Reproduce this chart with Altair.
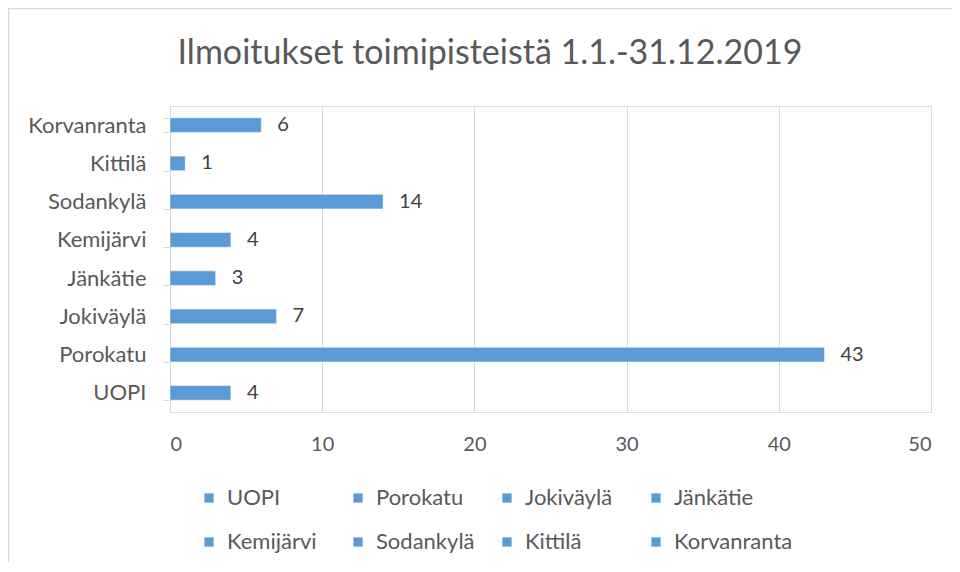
import altair as alt
import pandas as pd

title_text = "Ilmoitukset toimipisteistä 1.1.-31.12.2019"
categories = ["Korvanranta", "Kittilä", "Sodankylä", "Kemijärvi", "Jänkätie", "Jokiväylä", "Porokatu", "UOPI"]
values = [6, 1, 14, 4, 3, 7, 43, 4]
legend_order = ["UOPI", "Porokatu", "Jokiväylä", "Jänkätie", "Kemijärvi", "Sodankylä", "Kittilä", "Korvanranta"]
x_ticks = [0, 10, 20, 30, 40, 50]

BLUE = "#5B9BD5"
FONT = "Lato"

df = pd.DataFrame({"Toimipiste": categories, "Ilmoitukset": values})

y_enc = alt.Y(
    "Toimipiste:N",
    sort=categories,
    title=None,
    scale=alt.Scale(paddingInner=0.62, paddingOuter=0.31),
    axis=alt.Axis(
        tickBand="extent",
        domainColor="#D9D9D9",
        tickColor="#D9D9D9",
        tickSize=7,
        labelPadding=17,
        labelFont=FONT,
        labelFontSize=22,
        labelColor="#595959",
        grid=False,
    ),
)

x_enc = alt.X(
    "Ilmoitukset:Q",
    title=None,
    scale=alt.Scale(domain=[0, 50], nice=False),
    axis=alt.Axis(
        values=x_ticks,
        domain=False,
        ticks=False,
        grid=True,
        gridColor="#D9D9D9",
        labelPadding=22,
        labelFont=FONT,
        labelFontSize=20,
        labelColor="#595959",
    ),
)

bars = alt.Chart(df).mark_bar(color=BLUE, stroke="white", strokeWidth=0.5).encode(
    x=x_enc,
    y=y_enc,
    color=alt.Color(
        "Toimipiste:N",
        scale=alt.Scale(domain=legend_order, range=[BLUE] * len(legend_order)),
        legend=alt.Legend(
            title=None,
            orient="none",
            legendX=28,
            legendY=381,
            direction="horizontal",
            columns=4,
            gridAlign="all",
            columnPadding=1,
            rowPadding=22,
            symbolType="square",
            symbolSize=85,
            symbolStrokeWidth=0,
            labelOffset=7,
            labelFont=FONT,
            labelFontSize=22,
            labelColor="#595959",
        ),
    ),
)

labels = alt.Chart(df).mark_text(
    align="left", baseline="middle", dx=16, font=FONT, fontSize=20, color="#404040"
).encode(
    x=alt.X("Ilmoitukset:Q"),
    y=alt.Y("Toimipiste:N", sort=categories),
    text="Ilmoitukset:Q",
)

one = pd.DataFrame({"k": [0]})
border_left = alt.Chart(one).mark_rule(color="#D9D9D9", strokeWidth=1.5).encode(
    x=alt.value(-161.5), y=alt.value(-98), y2=alt.value(460)
)
border_top = alt.Chart(one).mark_rule(color="#D9D9D9", strokeWidth=1.5).encode(
    x=alt.value(-162), x2=alt.value(800), y=alt.value(-97.5)
)
title = alt.Chart(pd.DataFrame({"t": [title_text]})).mark_text(
    align="center", baseline="alphabetic", font=FONT, fontSize=34, color="#595959"
).encode(
    x=alt.value(320), y=alt.value(-42), text="t:N"
)

chart = (
    alt.layer(border_left, border_top, title, bars, labels)
    .properties(
        width=761,
        height=306,
        autosize=alt.AutoSizeParams(type="none"),
        padding={"left": 162, "top": 98, "right": 21, "bottom": 150},
    )
    .configure_view(stroke=None)
    .configure(background="white")
)

chart.save("out.html", embed_options={"renderer": "svg", "actions": False})
